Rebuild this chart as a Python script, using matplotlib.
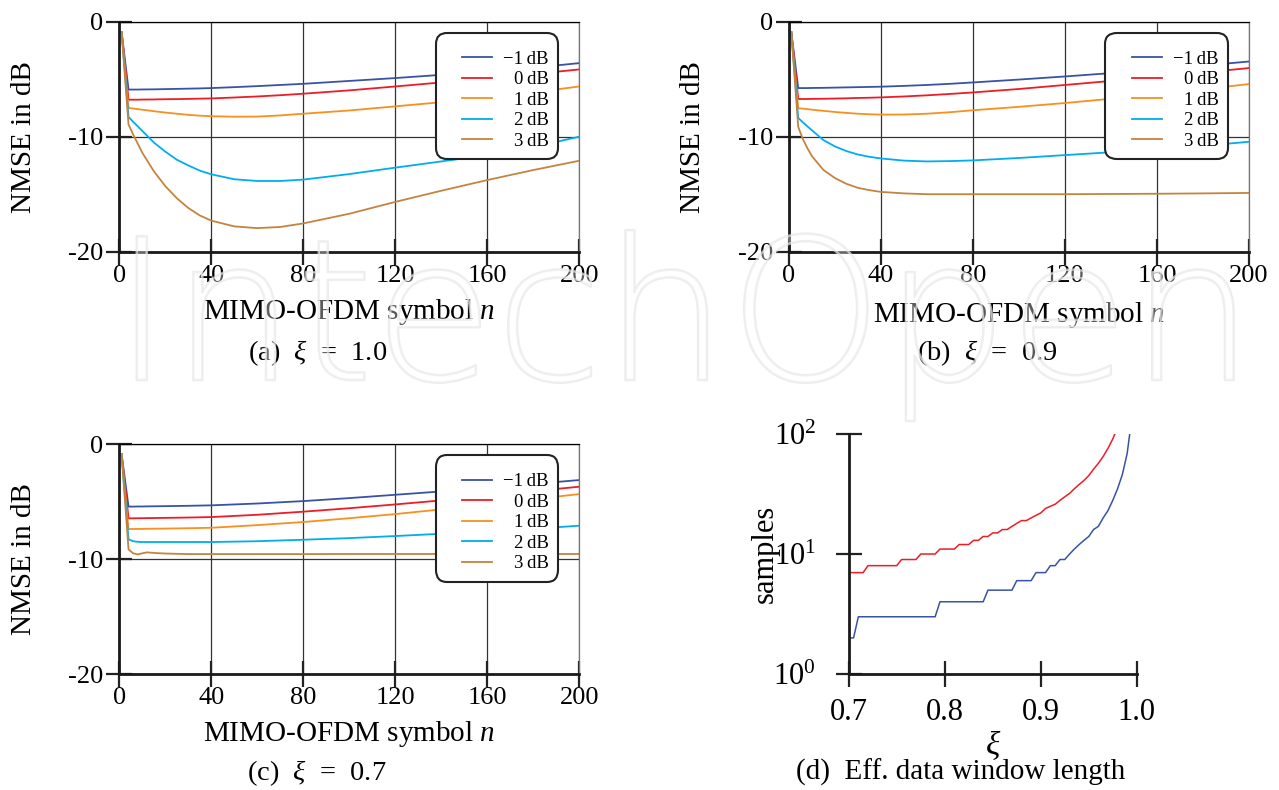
import matplotlib
matplotlib.use("Agg")
import matplotlib.pyplot as plt
import matplotlib.patheffects as pe
from matplotlib.lines import Line2D
from matplotlib.legend_handler import HandlerLine2D

plt.rcParams['font.family'] = ['Liberation Serif', 'DejaVu Serif']
plt.rcParams['mathtext.fontset'] = 'custom'
plt.rcParams['mathtext.rm'] = 'Liberation Serif'
plt.rcParams['mathtext.it'] = 'Liberation Serif:italic'
plt.rcParams['axes.unicode_minus'] = False

# values
snr_labels = ['\u22121\u2009dB', '0\u2009dB', '1\u2009dB', '2\u2009dB', '3\u2009dB']
colors = ['#3853a4', '#ee1c25', '#f7901e', '#00adef', '#c4843f']

n_ab = [1, 4, 6, 8, 10, 15, 20, 25, 30, 35, 40, 50, 60, 70, 80, 100, 120, 140, 160, 180, 200]

# (a) xi = 1.0
a_m1 = [-0.9, -5.9, -5.9, -5.9, -5.89, -5.88, -5.86, -5.84, -5.82, -5.8, -5.77, -5.69, -5.6, -5.5, -5.4,
        -5.15, -4.9, -4.62, -4.33, -4.0, -3.6]
a_0 = [-0.9, -6.78, -6.78, -6.78, -6.77, -6.76, -6.74, -6.73, -6.71, -6.69, -6.67, -6.59, -6.5, -6.39, -6.26,
       -5.97, -5.63, -5.28, -4.92, -4.55, -4.15]
a_1 = [-0.9, -7.5, -7.55, -7.6, -7.65, -7.78, -7.9, -8.0, -8.1, -8.17, -8.22, -8.26, -8.25, -8.15, -8.0,
       -7.72, -7.36, -7.0, -6.6, -6.15, -5.63]
a_2 = [-0.9, -8.28, -8.7, -9.1, -9.5, -10.5, -11.3, -12.0, -12.5, -12.95, -13.27, -13.7, -13.85, -13.85, -13.73,
       -13.25, -12.69, -12.15, -11.6, -10.9, -10.0]
a_3 = [-0.9, -8.94, -9.8, -10.6, -11.4, -13.0, -14.3, -15.35, -16.2, -16.85, -17.3, -17.8, -17.95, -17.85, -17.54,
       -16.7, -15.67, -14.7, -13.77, -12.9, -12.09]

# (b) xi = 0.9
b_m1 = [-0.9, -5.77, -5.77, -5.77, -5.76, -5.75, -5.73, -5.71, -5.69, -5.67, -5.65, -5.58, -5.5, -5.4, -5.28,
        -5.03, -4.76, -4.47, -4.15, -3.82, -3.46]
b_0 = [-0.9, -6.72, -6.72, -6.72, -6.71, -6.7, -6.68, -6.66, -6.63, -6.61, -6.58, -6.5, -6.4, -6.28, -6.15,
       -5.85, -5.5, -5.15, -4.8, -4.42, -4.03]
b_1 = [-0.9, -7.53, -7.56, -7.6, -7.65, -7.75, -7.85, -7.93, -8.0, -8.05, -8.08, -8.07, -8.0, -7.87, -7.7,
       -7.4, -7.07, -6.7, -6.3, -5.88, -5.42]
b_2 = [-0.9, -8.36, -8.75, -9.1, -9.45, -10.3, -10.85, -11.25, -11.55, -11.75, -11.89, -12.08, -12.15, -12.12, -12.06,
       -11.85, -11.6, -11.35, -11.1, -10.8, -10.44]
b_3 = [-0.9, -9.14, -10.2, -11.0, -11.7, -12.9, -13.6, -14.1, -14.45, -14.65, -14.8, -14.93, -15.0, -15.0, -15.0,
       -15.0, -15.0, -14.98, -14.96, -14.93, -14.89]

# (c) xi = 0.7
n_c = [1, 4, 6, 8, 10, 12, 16, 20, 30, 40, 60, 80, 100, 120, 140, 160, 180, 200]
c_m1 = [-0.9, -5.44, -5.44, -5.43, -5.43, -5.42, -5.41, -5.4, -5.37, -5.33, -5.17, -4.96, -4.7, -4.41, -4.12,
        -3.8, -3.47, -3.13]
c_0 = [-0.9, -6.46, -6.46, -6.45, -6.45, -6.44, -6.43, -6.42, -6.39, -6.35, -6.15, -5.88, -5.58, -5.25, -4.9,
       -4.5, -4.1, -3.71]
c_1 = [-0.9, -7.39, -7.39, -7.38, -7.38, -7.37, -7.36, -7.35, -7.32, -7.28, -7.05, -6.78, -6.45, -6.09, -5.68,
       -5.25, -4.8, -4.35]
c_2 = [-0.9, -8.29, -8.45, -8.5, -8.52, -8.52, -8.52, -8.52, -8.52, -8.52, -8.45, -8.32, -8.18, -8.0, -7.8,
       -7.6, -7.37, -7.1]
c_3 = [-0.9, -9.16, -9.5, -9.6, -9.5, -9.42, -9.48, -9.52, -9.57, -9.57, -9.57, -9.57, -9.56, -9.56, -9.56,
       -9.56, -9.56, -9.56]

# (d) effective data window length vs xi
xi = [0.700, 0.705, 0.710, 0.715, 0.720, 0.725, 0.730, 0.735, 0.740, 0.745,
      0.750, 0.755, 0.760, 0.765, 0.770, 0.775, 0.780, 0.785, 0.790, 0.795,
      0.800, 0.805, 0.810, 0.815, 0.820, 0.825, 0.830, 0.835, 0.840, 0.845,
      0.850, 0.855, 0.860, 0.865, 0.870, 0.875, 0.880, 0.885, 0.890, 0.895,
      0.900, 0.905, 0.910, 0.915, 0.920, 0.925, 0.930, 0.935, 0.940, 0.945,
      0.950, 0.955, 0.960, 0.965, 0.970, 0.975, 0.980, 0.985, 0.990, 0.995]
win_red = [7, 7, 7, 7, 8, 8, 8, 8, 8, 8,
           8, 9, 9, 9, 9, 10, 10, 10, 10, 11,
           11, 11, 11, 12, 12, 12, 13, 13, 14, 14,
           15, 15, 16, 16, 17, 18, 19, 19, 20, 21,
           22, 24, 25, 26, 28, 30, 32, 35, 38, 41,
           45, 51, 57, 65, 76, 91, 114, 150, 230, 460]
win_blue = [2, 2, 3, 3, 3, 3, 3, 3, 3, 3,
            3, 3, 3, 3, 3, 3, 3, 3, 3, 4,
            4, 4, 4, 4, 4, 4, 4, 4, 4, 5,
            5, 5, 5, 5, 5, 6, 6, 6, 6, 7,
            7, 7, 8, 8, 9, 9, 10, 11, 12, 13,
            14, 16, 17, 20, 23, 28, 35, 46, 69, 139]

fig = plt.figure(figsize=(12.79, 7.9), dpi=100)


def nmse_panel(rect, n, curves, xlab_y=-0.196):
    ax = fig.add_axes(rect)
    for y, c, lab in zip(curves, colors, snr_labels):
        ax.plot(n, y, color=c, lw=1.3, label=lab)
    ax.set_xlim(0, 200)
    ax.set_ylim(-20, 0)
    ax.set_xticks([0, 40, 80, 120, 160, 200])
    ax.set_yticks([-20, -10, 0])
    ax.grid(True, color='#333333', lw=0.9)
    ax.set_axisbelow(True)
    for s in ['left', 'bottom']:
        ax.spines[s].set_linewidth(2)
        ax.spines[s].set_color('#1a1a1a')
    ax.spines['top'].set_linewidth(0.9)
    ax.spines['right'].set_linewidth(0.9)
    ax.spines['right'].set_color('#777777')
    ax.tick_params(direction='inout', length=19, width=1.6, color='#222222',
                   labelsize=19)
    ax.tick_params(axis='y', pad=2)
    ax.tick_params(axis='x', pad=0)
    ax.set_xlabel('MIMO-OFDM symbol $n$', fontsize=21)
    ax.xaxis.set_label_coords(0.5, xlab_y)
    ax.set_ylabel('NMSE in dB', fontsize=21)
    ax.yaxis.set_label_coords(-0.18, 0.5)

    # a tiny blank title pushes the entries down a little, as in the original
    leg = ax.legend(loc='upper left', bbox_to_anchor=(0.688, 0.951),
                    borderaxespad=0, fontsize=13.5, handlelength=2.5,
                    handletextpad=0.6, labelspacing=0.18, borderpad=0.5,
                    title=' ', title_fontsize=5,
                    fancybox=True, framealpha=1, edgecolor='#222222',
                    handler_map={Line2D: HandlerLine2D(xpad=0.9)})
    leg.get_frame().set_linewidth(1.5)
    leg.get_frame().set_boxstyle('round', pad=0, rounding_size=0.6)
    return ax, leg


ax_a, leg_a = nmse_panel([0.0933, 0.6814, 0.3596, 0.2911], n_ab, [a_m1, a_0, a_1, a_2, a_3])
ax_b, leg_b = nmse_panel([0.6169, 0.6814, 0.3596, 0.2911], n_ab, [b_m1, b_0, b_1, b_2, b_3], xlab_y=-0.212)
ax_c, leg_c = nmse_panel([0.0933, 0.1468, 0.3596, 0.2911], n_c, [c_m1, c_0, c_1, c_2, c_3])

ax_d = fig.add_axes([0.6636, 0.1468, 0.2252, 0.3038])
ax_d.plot(xi, win_red, color=colors[1], lw=1.1)
ax_d.plot(xi, win_blue, color=colors[0], lw=1.1)
ax_d.set_yscale('log')
ax_d.set_xlim(0.7, 1.0)
ax_d.set_ylim(1, 100)
ax_d.set_xticks([0.7, 0.8, 0.9, 1.0])
ax_d.set_xticklabels(['0.7', '0.8', '0.9', '1.0'])
ax_d.minorticks_off()
ax_d.spines['top'].set_visible(False)
ax_d.spines['right'].set_visible(False)
for s in ['left', 'bottom']:
    ax_d.spines[s].set_linewidth(2)
    ax_d.spines[s].set_color('#1a1a1a')
ax_d.tick_params(direction='inout', length=19, width=1.6, color='#222222', labelsize=22)
ax_d.tick_params(axis='y', pad=14)
ax_d.tick_params(axis='x', pad=8)
ax_d.set_xlabel(r'$\xi$', fontsize=24)
ax_d.xaxis.set_label_coords(0.5, -0.225)
ax_d.set_ylabel('samples', fontsize=22)
ax_d.yaxis.set_label_coords(-0.24, 0.5)

# captions
fig.text(0.248, 1 - 360 / 790, r'(a)  $\xi$  =  1.0', fontsize=20.5, ha='center', va='baseline')
fig.text(0.772, 1 - 360 / 790, r'(b)  $\xi$  =  0.9', fontsize=20.5, ha='center', va='baseline')
fig.text(0.248, 1 - 780 / 790, r'(c)  $\xi$  =  0.7', fontsize=20.5, ha='center', va='baseline')
fig.text(0.751, 1 - 780 / 790, '(d)  Eff. data window length', fontsize=21, ha='center', va='baseline')

# right-align legend labels like the original
fig.canvas.draw()
renderer = fig.canvas.get_renderer()
for leg in [leg_a, leg_b, leg_c]:
    texts = leg.get_texts()
    widths = [t.get_window_extent(renderer).width for t in texts]
    wmax = max(widths)
    for t, w in zip(texts, widths):
        t.set_position((wmax - w, 0))

# faint publisher watermark
wm = fig.text(0.535, 1 - 380 / 790, 'IntechOpen', fontsize=142, family='DejaVu Sans',
              weight='light', ha='center', va='baseline', color=(1, 1, 1, 0.2), zorder=10)
wm.set_path_effects([pe.withStroke(linewidth=1.8, foreground=(0.9, 0.9, 0.9, 0.7))])

fig.savefig('out.png', dpi=100)
